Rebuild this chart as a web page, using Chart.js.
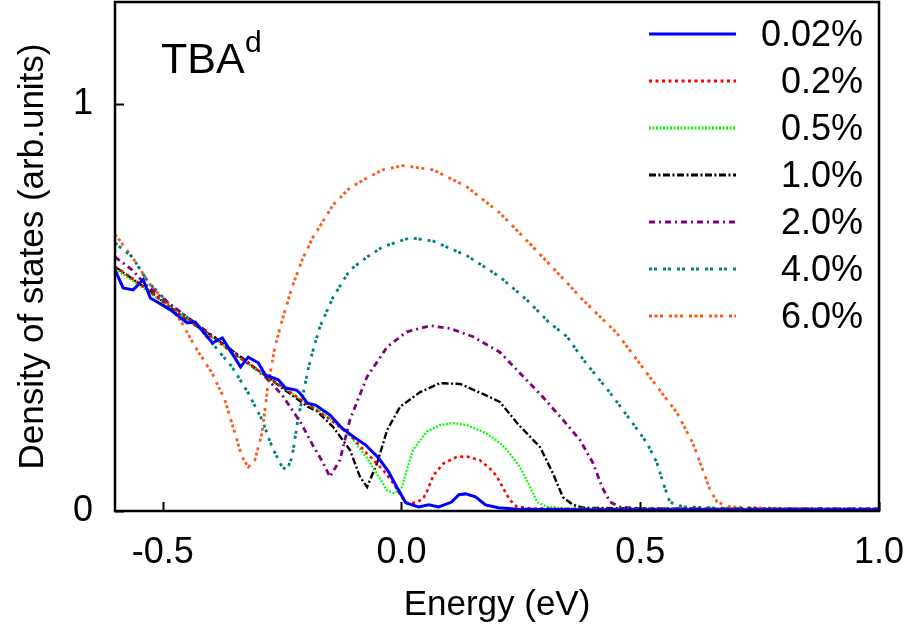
<!DOCTYPE html>
<html>
<head>
<meta charset="utf-8">
<script src="https://cdn.jsdelivr.net/npm/chart.js@4"></script>
<style>
  html, body { margin: 0; padding: 0; background: #fff; }
  #wrap { width: 909px; height: 634px; }
</style>
</head>
<body>
<div id="wrap"><canvas id="cvsDos" width="909" height="634"></canvas></div>
<script>
// dados (energia em eV, DOS em unidades arb.)
const xTicks = [-0.5, 0.0, 0.5, 1.0];
const yTicks = [0, 1];
const rotulos = ["0.02%", "0.2%", "0.5%", "1.0%", "2.0%", "4.0%", "6.0%"];

const e002X = [-0.6, -0.583, -0.562, -0.541, -0.526, -0.501, -0.484, -0.449, -0.432, -0.396, -0.375, -0.362, -0.337, -0.321, -0.300, -0.285, -0.258, -0.243, -0.22, -0.213, -0.197, -0.18, -0.15, -0.125, -0.10, -0.075, -0.048, -0.027, -0.01, 0.009, 0.036, 0.057, 0.078, 0.105, 0.12, 0.134, 0.155, 0.176, 0.203, 0.25, 0.4, 0.6, 0.8, 1.0];
const e002Y = [0.592, 0.548, 0.543, 0.568, 0.523, 0.506, 0.494, 0.462, 0.464, 0.413, 0.425, 0.40, 0.354, 0.378, 0.364, 0.334, 0.322, 0.302, 0.297, 0.29, 0.265, 0.26, 0.236, 0.204, 0.182, 0.162, 0.13, 0.096, 0.059, 0.02, 0.01, 0.015, 0.01, 0.022, 0.04, 0.042, 0.035, 0.015, 0.008, 0.004, 0.003, 0.003, 0.003, 0.003];

const e02X = [-0.6, -0.55, -0.5, -0.45, -0.4, -0.35, -0.3, -0.25, -0.2, -0.15, -0.108, -0.073, -0.038, -0.017, 0.0, 0.01, 0.03, 0.045, 0.053, 0.067, 0.088, 0.116, 0.137, 0.164, 0.192, 0.206, 0.217, 0.227, 0.241, 0.27, 0.4, 0.6, 0.8, 1.0];
const e02Y = [0.60, 0.56, 0.515, 0.47, 0.43, 0.385, 0.345, 0.305, 0.265, 0.225, 0.187, 0.142, 0.10, 0.068, 0.035, 0.02, 0.02, 0.03, 0.047, 0.088, 0.117, 0.133, 0.134, 0.125, 0.097, 0.072, 0.047, 0.027, 0.011, 0.006, 0.005, 0.005, 0.004, 0.004];

const e05X = [-0.6, -0.55, -0.5, -0.45, -0.4, -0.35, -0.3, -0.25, -0.2, -0.177, -0.143, -0.108, -0.072, -0.051, -0.03, -0.015, 0.0, 0.011, 0.024, 0.053, 0.081, 0.108, 0.137, 0.179, 0.206, 0.221, 0.248, 0.269, 0.284, 0.305, 0.35, 0.5, 0.7, 1.0];
const e05Y = [0.595, 0.555, 0.513, 0.47, 0.43, 0.385, 0.345, 0.305, 0.265, 0.25, 0.22, 0.185, 0.13, 0.09, 0.05, 0.044, 0.055, 0.10, 0.15, 0.195, 0.211, 0.216, 0.211, 0.19, 0.167, 0.15, 0.108, 0.059, 0.022, 0.01, 0.006, 0.005, 0.005, 0.004];

const e10X = [-0.6, -0.531, -0.46, -0.39, -0.321, -0.25, -0.196, -0.177, -0.143, -0.108, -0.087, -0.072, -0.051, -0.03, -0.003, 0.039, 0.081, 0.123, 0.175, 0.206, 0.242, 0.29, 0.317, 0.338, 0.359, 0.38, 0.5, 0.7, 1.0];
const e10Y = [0.60, 0.543, 0.477, 0.425, 0.364, 0.302, 0.256, 0.245, 0.206, 0.15, 0.084, 0.059, 0.118, 0.199, 0.256, 0.292, 0.314, 0.312, 0.285, 0.268, 0.216, 0.157, 0.093, 0.034, 0.015, 0.008, 0.006, 0.005, 0.005];

const e20X = [-0.6, -0.564, -0.531, -0.46, -0.39, -0.321, -0.286, -0.25, -0.21, -0.185, -0.164, -0.15, -0.129, -0.108, -0.072, -0.03, 0.011, 0.06, 0.102, 0.15, 0.206, 0.242, 0.296, 0.338, 0.374, 0.401, 0.42, 0.437, 0.458, 0.5, 0.7, 1.0];
const e20Y = [0.624, 0.592, 0.55, 0.486, 0.425, 0.364, 0.33, 0.285, 0.215, 0.16, 0.118, 0.084, 0.125, 0.224, 0.33, 0.403, 0.44, 0.455, 0.448, 0.428, 0.39, 0.346, 0.28, 0.224, 0.174, 0.118, 0.059, 0.022, 0.01, 0.006, 0.005, 0.005];

const e40X = [-0.6, -0.564, -0.531, -0.48, -0.432, -0.39, -0.355, -0.321, -0.292, -0.271, -0.25, -0.24, -0.229, -0.217, -0.196, -0.185, -0.171, -0.143, -0.108, -0.072, -0.039, 0.018, 0.066, 0.137, 0.206, 0.263, 0.311, 0.347, 0.381, 0.437, 0.479, 0.514, 0.535, 0.548, 0.562, 0.59, 0.7, 0.85, 1.0];
const e40Y = [0.658, 0.624, 0.563, 0.501, 0.462, 0.403, 0.354, 0.29, 0.224, 0.157, 0.108, 0.101, 0.133, 0.224, 0.346, 0.396, 0.452, 0.526, 0.592, 0.624, 0.649, 0.671, 0.663, 0.627, 0.575, 0.518, 0.461, 0.428, 0.371, 0.29, 0.224, 0.167, 0.118, 0.069, 0.022, 0.01, 0.006, 0.005, 0.005];

const e60X = [-0.6, -0.562, -0.523, -0.489, -0.46, -0.432, -0.397, -0.37, -0.349, -0.334, -0.321, -0.307, -0.292, -0.28, -0.265, -0.25, -0.229, -0.208, -0.185, -0.143, -0.108, -0.072, -0.039, 0.003, 0.066, 0.137, 0.206, 0.275, 0.347, 0.38, 0.416, 0.451, 0.52, 0.577, 0.61, 0.631, 0.646, 0.661, 0.688, 0.8, 1.0];
const e60Y = [0.68, 0.62, 0.55, 0.511, 0.462, 0.403, 0.339, 0.273, 0.192, 0.133, 0.108, 0.125, 0.192, 0.305, 0.403, 0.469, 0.55, 0.617, 0.673, 0.752, 0.794, 0.818, 0.838, 0.848, 0.838, 0.796, 0.732, 0.649, 0.56, 0.518, 0.477, 0.437, 0.329, 0.241, 0.167, 0.101, 0.052, 0.022, 0.01, 0.006, 0.005];

const cores = ["#0000ff", "#ff0000", "#00ff00", "#000000", "#800080", "#008080", "#ff5a14"];
const tracos = [[], [3, 3.5], [2, 1.5], [7, 2.5, 2, 2.5], [6, 4, 2, 4], [3, 2, 3, 6], [3, 2.5, 3, 2.5, 3, 6]];
const larguras = [3, 2.6, 2.2, 2.4, 2.8, 2.8, 2.8];

const fonte = "'Liberation Sans', Arial, Helvetica, sans-serif";

function junta(xs, ys) {
  return xs.map((x, i) => ({ x: x, y: ys[i] }));
}

const series = [
  junta(e002X, e002Y), junta(e02X, e02Y), junta(e05X, e05Y), junta(e10X, e10Y),
  junta(e20X, e20Y), junta(e40X, e40Y), junta(e60X, e60Y)
];

// moldura, ticks pra dentro, legenda e o rotulo TBA^d
const extras = {
  id: "extras",
  afterDraw(chart) {
    const ctx = chart.ctx;
    const a = chart.chartArea;
    const sx = chart.scales.x;
    const sy = chart.scales.y;
    ctx.save();

    ctx.strokeStyle = "#000";
    ctx.lineWidth = 2;
    xTicks.forEach(v => {
      const p = Math.round(sx.getPixelForValue(v)) + 0.5;
      ctx.beginPath();
      ctx.moveTo(p, a.bottom);
      ctx.lineTo(p, a.bottom - 9);
      ctx.stroke();
    });
    yTicks.forEach(v => {
      const p = Math.round(sy.getPixelForValue(v)) + 0.5;
      ctx.beginPath();
      ctx.moveTo(a.left, p);
      ctx.lineTo(a.left + 9, p);
      ctx.stroke();
    });

    ctx.lineWidth = 2.5;
    ctx.strokeRect(a.left, a.top, a.right - a.left, a.bottom - a.top);

    // legenda
    const y0 = 34, dy = 47;
    rotulos.forEach((r, i) => {
      const y = y0 + i * dy;
      ctx.beginPath();
      ctx.setLineDash(tracos[i]);
      ctx.strokeStyle = cores[i];
      ctx.lineWidth = 3;
      ctx.moveTo(649, y);
      ctx.lineTo(736, y);
      ctx.stroke();
      ctx.setLineDash([]);
      ctx.fillStyle = "#000";
      ctx.font = "36px " + fonte;
      ctx.textAlign = "right";
      ctx.textBaseline = "middle";
      ctx.fillText(r, 863, y + 2);
    });

    ctx.fillStyle = "#000";
    ctx.textAlign = "left";
    ctx.textBaseline = "alphabetic";
    ctx.font = "43px " + fonte;
    ctx.fillText("TBA", 161, 73);
    ctx.font = "30px " + fonte;
    ctx.fillText("d", 245, 52);
    ctx.restore();
  }
};

new Chart(document.getElementById("cvsDos"), {
  type: "scatter",
  data: {
    datasets: series.map((s, i) => ({
      label: rotulos[i],
      data: s,
      showLine: true,
      borderColor: cores[i],
      backgroundColor: cores[i],
      borderDash: tracos[i],
      borderWidth: larguras[i],
      pointRadius: 0,
      tension: 0
    }))
  },
  options: {
    responsive: false,
    animation: false,
    layout: { padding: { top: 2, right: 30, left: 0, bottom: 0 } },
    plugins: { legend: { display: false }, tooltip: { enabled: false } },
    scales: {
      x: {
        type: "linear",
        min: -0.6,
        max: 1.0,
        grid: { display: false, drawTicks: false },
        border: { display: false },
        afterBuildTicks: s => { s.ticks = xTicks.map(v => ({ value: v })); },
        afterFit: s => { s.height = 123; s.paddingLeft = 0; s.paddingRight = 0; },
        ticks: {
          padding: 20,
          color: "#000",
          font: { family: fonte, size: 36 },
          callback: v => v.toFixed(1)
        },
        title: {
          display: true,
          text: "Energy (eV)",
          color: "#000",
          font: { family: fonte, size: 35 },
          padding: { top: 0, bottom: 8 }
        }
      },
      y: {
        min: 0,
        max: 1.25,
        grid: { display: false, drawTicks: false },
        border: { display: false },
        afterBuildTicks: s => { s.ticks = yTicks.map(v => ({ value: v })); },
        afterFit: s => { s.width = 115; s.paddingTop = 0; s.paddingBottom = 0; },
        ticks: {
          padding: 22,
          color: "#000",
          font: { family: fonte, size: 36 },
          callback: v => String(v)
        },
        title: {
          display: true,
          text: "Density of states (arb.units)",
          color: "#000",
          font: { family: fonte, size: 35 },
          padding: { top: 12, bottom: 0 }
        }
      }
    }
  },
  plugins: [extras]
});
</script>
</body>
</html>
